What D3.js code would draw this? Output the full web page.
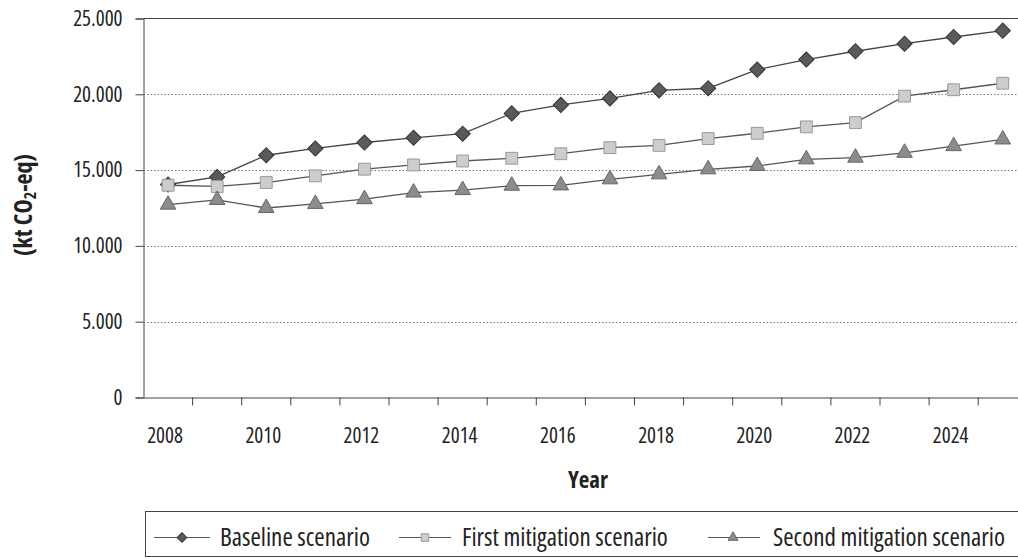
<!DOCTYPE html>
<html>
<head>
<meta charset="utf-8">
<script src="https://cdn.jsdelivr.net/npm/d3@7/dist/d3.min.js"></script>
<style>
  html, body { margin: 0; padding: 0; background: #fff; overflow: hidden; }
  svg { display: block; }
  text { font-family: "Open Sans", sans-serif; font-stretch: 75%; fill: #222; }
</style>
</head>
<body>
<svg id="chart" width="1018" height="559"></svg>
<script>
const years = [2008, 2009, 2010, 2011, 2012, 2013, 2014, 2015, 2016, 2017, 2018, 2019, 2020, 2021, 2022, 2023, 2024, 2025];
const baseline = [14050, 14550, 15980, 16430, 16820, 17130, 17400, 18740, 19300, 19730, 20260, 20400, 21630, 22290, 22840, 23340, 23780, 24200];
const firstMitigation = [14000, 13920, 14180, 14620, 15060, 15340, 15600, 15780, 16080, 16480, 16630, 17080, 17430, 17850, 18130, 19880, 20300, 20730];
const secondMitigation = [12720, 13030, 12500, 12770, 13080, 13520, 13680, 13970, 13990, 14390, 14720, 15050, 15270, 15710, 15820, 16140, 16580, 17020];
const yTicks = [0, 5000, 10000, 15000, 20000, 25000];
const xTickLabels = [2008, 2010, 2012, 2014, 2016, 2018, 2020, 2022, 2024];
const seriesNames = ["Baseline scenario", "First mitigation scenario", "Second mitigation scenario"];

const svg = d3.select("#chart");
const mLeft = 143.5, mTop = 18.5, mBottom = 397.5;
const step = 49.1;
const x = d3.scaleBand().domain(years).range([mLeft, mLeft + step * years.length]).paddingInner(0).paddingOuter(0);
const y = d3.scaleLinear().domain([0, 25000]).range([mBottom, mTop]);
const fmt = d3.formatLocale({decimal: ",", thousands: ".", grouping: [3], currency: ["", ""]}).format(",");

// gridlines
svg.append("g").selectAll("line").data(yTicks.filter(d => d > 0 && d < 25000)).join("line")
  .attr("x1", mLeft).attr("x2", 1018).attr("y1", d => Math.round(y(d)) + 0.5).attr("y2", d => Math.round(y(d)) + 0.5)
  .attr("stroke", "#777").attr("stroke-width", 1).attr("stroke-dasharray", "1.5,2");
// top border
svg.append("line").attr("x1", mLeft).attr("x2", 1018).attr("y1", y(25000)).attr("y2", y(25000))
  .attr("stroke", "#444").attr("stroke-width", 1.2);

// y axis
const yAxis = d3.axisLeft(y).tickValues(yTicks).tickFormat(fmt).tickSize(8).tickPadding(13);
const gy = svg.append("g").attr("transform", `translate(${mLeft},0)`).call(yAxis);
gy.select(".domain").attr("stroke", "#444");
gy.selectAll(".tick line").attr("stroke", "#444");
gy.selectAll(".tick text").attr("font-size", 21).attr("fill", "#222").attr("font-family", null)
  .style("font-stretch", "84%");

// x axis with ticks at band boundaries
const xAxis = d3.axisBottom(x).tickValues([]).tickSize(0).tickSizeOuter(0);
const gx = svg.append("g").attr("transform", `translate(0,${mBottom})`).call(xAxis);
gx.select(".domain").attr("stroke", "#444");
svg.append("g").selectAll("line").data(years).join("line")
  .attr("x1", d => x(d) + x.bandwidth()).attr("x2", d => x(d) + x.bandwidth())
  .attr("y1", mBottom).attr("y2", mBottom + 8).attr("stroke", "#444");
svg.append("g").selectAll("text").data(xTickLabels).join("text")
  .attr("x", d => x(d) + x.bandwidth() / 2 - 3).attr("y", 443)
  .attr("text-anchor", "middle").attr("font-size", 21).text(d => d);

// axis titles
svg.append("text").attr("x", 588).attr("y", 488).attr("text-anchor", "middle")
  .attr("font-size", 23).attr("font-weight", "bold").text("Year");
const yt = svg.append("text").attr("transform", "translate(32,205) rotate(-90)")
  .attr("text-anchor", "middle").attr("font-size", 24).attr("font-weight", "bold").style("font-stretch", "80%");
yt.append("tspan").text("(kt CO");
yt.append("tspan").attr("font-size", 16).attr("dy", 4).text("2");
yt.append("tspan").attr("dy", -4).text("-eq)");

// series
const cx = d => x(d) + x.bandwidth() / 2;
const series = [
  {name: seriesNames[0], values: baseline, symbol: d3.symbolSquare, rot: 45, size: 115, fill: "#5a5a5a", stroke: "#333", line: "#444"},
  {name: seriesNames[1], values: firstMitigation, symbol: d3.symbolSquare, rot: 0, size: 140, fill: "#cdcdcd", stroke: "#999", line: "#555"},
  {name: seriesNames[2], values: secondMitigation, symbol: d3.symbolTriangle, rot: 0, size: 105, fill: "#8c8c8c", stroke: "#666", line: "#555"}
];
const line = d3.line().x((d, i) => cx(years[i])).y(d => y(d));
series.forEach(s => {
  svg.append("path").datum(s.values).attr("d", line).attr("fill", "none").attr("stroke", s.line).attr("stroke-width", 1.3);
  svg.append("g").selectAll("path").data(s.values).join("path")
    .attr("transform", (d, i) => `translate(${cx(years[i])},${y(d)}) rotate(${s.rot})`)
    .attr("d", d3.symbol().type(s.symbol).size(s.size))
    .attr("fill", s.fill).attr("stroke", s.stroke).attr("stroke-width", 1);
});

// legend
svg.append("rect").attr("x", 145.5).attr("y", 511.5).attr("width", 900).attr("height", 45)
  .attr("fill", "none").attr("stroke", "#444").attr("stroke-width", 1);
const legendItems = [{x0: 154, x1: 210, mx: 182, tx: 220}, {x0: 399, x1: 451, mx: 425, tx: 462}, {x0: 708, x1: 760, mx: 733, tx: 773}];
series.forEach((s, i) => {
  const li = legendItems[i];
  const g = svg.append("g");
  g.append("line").attr("x1", li.x0).attr("x2", li.x1).attr("y1", 537.5).attr("y2", 537.5)
    .attr("stroke", "#555").attr("stroke-width", 1);
  g.append("path").attr("transform", `translate(${li.mx},537.5) rotate(${s.rot})`)
    .attr("d", d3.symbol().type(s.symbol).size(s.size * 0.4))
    .attr("fill", s.fill).attr("stroke", s.stroke);
  g.append("text").attr("x", li.tx).attr("y", 546).attr("font-size", 25).text(s.name);
});
</script>
</body>
</html>
